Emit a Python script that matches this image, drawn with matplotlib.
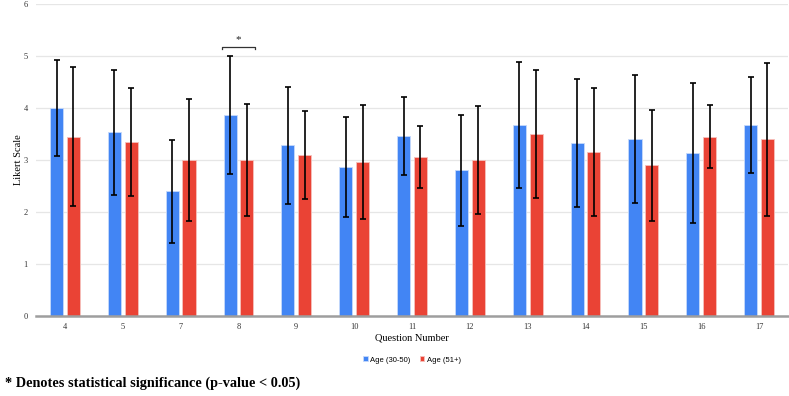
import matplotlib
matplotlib.use("Agg")
import matplotlib.pyplot as plt
import numpy as np

questions = ["4", "5", "7", "8", "9", "10", "11", "12", "13", "14", "15", "16", "17"]
young_mean = [4.00, 3.53, 2.40, 3.87, 3.28, 2.87, 3.47, 2.80, 3.67, 3.33, 3.40, 3.13, 3.67]
young_sd = [0.93, 1.20, 0.99, 1.13, 1.13, 0.96, 0.75, 1.06, 1.21, 1.23, 1.23, 1.35, 0.92]
old_mean = [3.45, 3.35, 3.00, 3.00, 3.10, 2.96, 3.06, 3.00, 3.50, 3.15, 2.90, 3.45, 3.40]
old_sd = [1.33, 1.04, 1.17, 1.08, 0.85, 1.10, 0.60, 1.03, 1.24, 1.23, 1.07, 0.60, 1.47]
series_names = ["Age (30-50)", "Age (51+)"]
significant = ["8"]

BLUE = "#4285F4"
RED = "#EA4335"

fig = plt.figure(figsize=(7.89, 3.96), dpi=100)
ax = fig.add_axes([36/789, (396-316)/396, (788-36)/789, 312/396])

x = np.arange(len(questions))
w = 0.225
off = 0.145
ekw = dict(elinewidth=1.2, capsize=2.5, capthick=1.2, ecolor="black")
ax.bar(x - off, young_mean, w, color=BLUE, edgecolor="#c6d9fb", linewidth=0.6,
       yerr=young_sd, error_kw=ekw, label=series_names[0], zorder=3)
ax.bar(x + off, old_mean, w, color=RED, edgecolor="#f6c1bc", linewidth=0.6,
       yerr=old_sd, error_kw=ekw, label=series_names[1], zorder=3)

ax.set_xlim(-0.5, len(questions) - 0.5)
ax.set_ylim(0, 6)
ax.set_yticks(range(0, 7))
ax.set_xticks(x)
ax.set_xticklabels(questions)
ax.grid(axis="y", color="#e6e6e6", linewidth=0.9, zorder=0)
ax.set_axisbelow(True)
for s in ["top", "right", "left"]:
    ax.spines[s].set_visible(False)
ax.spines["bottom"].set_color("#9e9e9e")
ax.spines["bottom"].set_linewidth(1.8)
ax.spines["bottom"].set_zorder(4)
ax.tick_params(axis="both", length=0, labelsize=6, labelcolor="#333333")
ax.tick_params(axis="x", pad=5)
ax.tick_params(axis="y", pad=6)
for lab in ax.get_xticklabels() + ax.get_yticklabels():
    lab.set_family("Liberation Serif")

ax.set_ylabel("Likert Scale", family="Liberation Serif", fontsize=7.5, labelpad=0)
ax.set_xlabel("Question Number", family="Liberation Serif", fontsize=7.5, labelpad=2)

# significance bracket
for q in significant:
    i = questions.index(q)
    x0, x1 = i - 0.29, i + 0.29
    yb = 5.18
    ax.plot([x0, x0, x1, x1], [yb - 0.05, yb, yb, yb - 0.05], color="#333333", lw=0.9,
            clip_on=False, zorder=5)
    ax.text(i, yb + 0.04, "*", ha="center", va="bottom", fontsize=8,
            family="Liberation Serif", color="#222222")

leg = ax.legend(loc="center", bbox_to_anchor=(0.5, -0.141), ncol=2, frameon=False,
                prop={"family": "Liberation Sans", "size": 5.5}, handlelength=0.6,
                handleheight=0.6, handletextpad=0.3, columnspacing=1.2)

fig.text(5/789, 1 - 383/396, "* Denotes statistical significance (p-value < 0.05)",
         family="Liberation Serif", fontweight="bold", fontsize=10.3, ha="left", va="center")

fig.savefig("out.png", dpi=100)
